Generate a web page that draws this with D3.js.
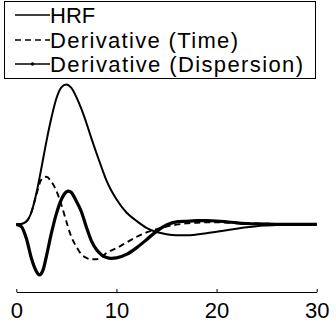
<!DOCTYPE html>
<html>
<head>
<meta charset="utf-8">
<script src="https://cdn.jsdelivr.net/npm/d3@7"></script>
<style>
  html, body { margin: 0; padding: 0; background: #fff; }
  svg { display: block; }
  text { font-family: "Liberation Sans", Arial, Helvetica, sans-serif; }
</style>
</head>
<body>
<svg id="chart" width="336" height="325"></svg>
<script>
// ---- data ----
const hrfTime = [0,0.5,1,1.5,2,2.5,3,3.5,4,4.5,5,5.5,6,6.5,7,7.5,8,8.5,9,9.5,10,11,12,13,14,15,16,17,18,19,20,21,22,23,24,25,26,28,30];
const hrfValues = [0,0.003,0.02,0.085,0.22,0.4,0.59,0.76,0.9,0.98,1.0,0.975,0.91,0.825,0.725,0.615,0.51,0.41,0.315,0.24,0.18,0.085,0.025,-0.025,-0.055,-0.07,-0.077,-0.078,-0.073,-0.064,-0.053,-0.042,-0.031,-0.021,-0.013,-0.008,-0.004,-0.001,0];

const timeDerivTime = [0,0.5,1,1.5,2,2.5,3,3.5,4,4.5,5,5.5,6,6.5,7,7.5,8,8.5,9,10,11,12,13,14,15,16,17,18,19,20,22,24,26,28,30];
const timeDerivValues = [0,0.003,0.02,0.085,0.21,0.32,0.34,0.305,0.24,0.14,0.02,-0.09,-0.16,-0.215,-0.24,-0.25,-0.25,-0.235,-0.205,-0.17,-0.13,-0.09,-0.058,-0.035,-0.015,-0.002,0.007,0.012,0.014,0.014,0.011,0.006,0.003,0.001,0];

const dispDerivTime = [0,0.5,1,1.5,2,2.3,2.7,3,3.5,4,4.5,5,5.2,5.5,6,6.5,7,7.5,8,8.5,9,9.5,10,11,12,13,14,15,16,17,18,19,20,21,22,23,24,25,26,28,30];
const dispDerivValues = [0,-0.015,-0.1,-0.24,-0.335,-0.362,-0.32,-0.23,-0.065,0.075,0.178,0.232,0.238,0.228,0.165,0.09,-0.02,-0.118,-0.18,-0.217,-0.237,-0.243,-0.24,-0.215,-0.168,-0.11,-0.05,-0.005,0.018,0.022,0.026,0.027,0.024,0.018,0.011,0.006,0.003,0.001,0,0,0];

const xTicks = [0, 10, 20, 30];
const legendLabels = ["HRF", "Derivative (Time)", "Derivative (Dispersion)"];

// ---- drawing ----
const svg = d3.select("#chart");

const x = d3.scaleLinear().domain([0, 30]).range([16.3, 316.7]);
const y = d3.scaleLinear().domain([-0.4, 1]).range([280.3, 84.5]);

const line = d3.line()
  .x(d => x(d[0]))
  .y(d => y(d[1]))
  .curve(d3.curveMonotoneX);

const zip = (t, v) => t.map((ti, i) => [ti, v[i]]);

// x axis
const axis = d3.axisBottom(x)
  .tickValues(xTicks)
  .tickFormat(d3.format("d"))
  .tickSizeInner(-3)
  .tickSizeOuter(0)
  .tickPadding(10);

const gAxis = svg.append("g")
  .attr("transform", "translate(0,292)")
  .call(axis);
gAxis.select(".domain").attr("stroke", "#000").attr("stroke-width", 1.2);
gAxis.selectAll(".tick line").attr("stroke", "#000");
gAxis.selectAll(".tick text")
  .attr("fill", "#000")
  .style("font-size", "22px")
  .style("font-family", "'Liberation Sans', Arial, sans-serif");

// curves
svg.append("path")
  .datum(zip(dispDerivTime, dispDerivValues))
  .attr("d", line)
  .attr("fill", "none")
  .attr("stroke", "#000")
  .attr("stroke-width", 3.2)
  .attr("stroke-linejoin", "round");

svg.append("path")
  .datum(zip(timeDerivTime, timeDerivValues))
  .attr("d", line)
  .attr("fill", "none")
  .attr("stroke", "#000")
  .attr("stroke-width", 1.9)
  .attr("stroke-dasharray", "6,4");

svg.append("path")
  .datum(zip(hrfTime, hrfValues))
  .attr("d", line)
  .attr("fill", "none")
  .attr("stroke", "#000")
  .attr("stroke-width", 2);

// legend
const lg = svg.append("g");
lg.append("rect")
  .attr("x", 4.5).attr("y", 1.5)
  .attr("width", 311).attr("height", 77)
  .attr("fill", "#fff")
  .attr("stroke", "#000")
  .attr("stroke-width", 1);

const rowY = [15, 40, 64];
const textWidths = [null, 188, 253];
const dashes = [null, "6,4", null];

legendLabels.forEach((lab, i) => {
  lg.append("line")
    .attr("x1", 15).attr("x2", 50)
    .attr("y1", rowY[i]).attr("y2", rowY[i])
    .attr("stroke", "#000")
    .attr("stroke-width", 1.7)
    .attr("stroke-dasharray", dashes[i]);
  if (i === 2) {
    lg.append("circle")
      .attr("cx", 32.5).attr("cy", rowY[i]).attr("r", 1.8)
      .attr("fill", "#000");
  }
  const t = lg.append("text")
    .attr("x", 50)
    .attr("y", rowY[i] + 8)
    .style("font-size", "22px")
    .attr("fill", "#000")
    .text(lab);
  if (textWidths[i]) {
    t.attr("textLength", textWidths[i]).attr("lengthAdjust", "spacing");
  }
});
</script>
</body>
</html>
